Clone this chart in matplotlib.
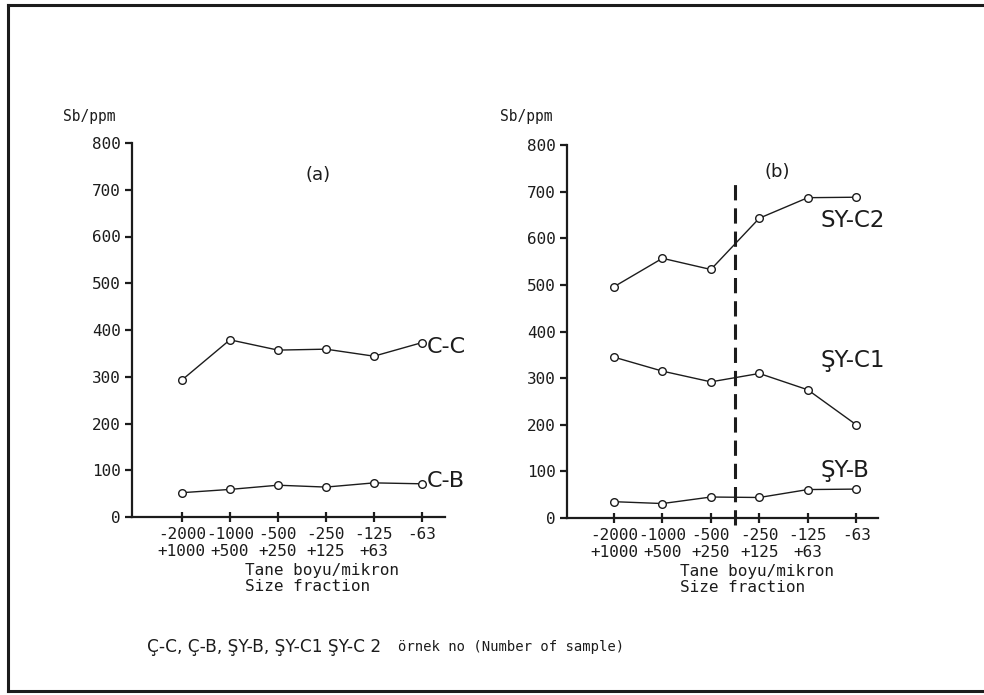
import matplotlib
matplotlib.use("Agg")
import matplotlib.pyplot as plt
from matplotlib.lines import Line2D

# Size fractions (micron)
fractions = ["-2000\n+1000", "-1000\n+500", "-500\n+250", "-250\n+125", "-125\n+63", "-63"]
yticks = [0, 100, 200, 300, 400, 500, 600, 700, 800]

# Sb/ppm values
cc = [293, 379, 357, 359, 344, 373]
cb = [52, 59, 68, 64, 73, 71]
sy_c2 = [496, 557, 533, 643, 687, 688]
sy_c1 = [345, 315, 292, 310, 275, 200]
sy_b = [35, 31, 45, 44, 61, 62]

ink = "#1c1c1c"
mono = "DejaVu Sans Mono"
W, H = 984, 695

fig = plt.figure(figsize=(W / 100, H / 100), dpi=100)
fig.patch.set_facecolor("white")


def box(l, r, t, b):
    return [l / W, 1 - b / H, (r - l) / W, (b - t) / H]


def setup(ax, xlim):
    x = range(len(fractions))
    ax.set_xlim(*xlim)
    ax.set_ylim(0, 800)
    for s in ["top", "right"]:
        ax.spines[s].set_visible(False)
    for s in ["left", "bottom"]:
        ax.spines[s].set_linewidth(1.6)
        ax.spines[s].set_color(ink)
    ax.set_xticks(list(x))
    ax.set_xticklabels(fractions, family=mono, fontsize=11.5, linespacing=1.1)
    ax.set_yticks(yticks)
    ax.set_yticklabels([str(v) for v in yticks], family=mono, fontsize=11.5)
    ax.tick_params(axis="x", direction="inout", length=7, width=1.6, pad=4, colors=ink)
    ax.tick_params(axis="y", direction="out", length=5, width=1.6, pad=3, colors=ink)
    ax.patch.set_alpha(0)
    return list(x)


def series(ax, x, y):
    ax.plot(x, y, color=ink, lw=1.0, marker="o", ms=5.5, mfc="white", mec=ink, mew=1.0,
            clip_on=False, zorder=3)


# panel (a)
ax1 = fig.add_axes(box(132, 445, 143, 517))
x = setup(ax1, (-1.04, 5.48))
series(ax1, x, cc)
series(ax1, x, cb)
ax1.text(5.1, 351, "C-C", fontsize=16, color=ink, va="baseline")
ax1.text(5.1, 64, "C-B", fontsize=16, color=ink, va="baseline")
ax1.text(2.83, 731, "(a)", fontsize=13, color=ink, ha="center", va="center")

# panel (b)
ax2 = fig.add_axes(box(567, 878, 145, 518))
x = setup(ax2, (-0.97, 5.45))
series(ax2, x, sy_c2)
series(ax2, x, sy_c1)
series(ax2, x, sy_b)
ax2.plot([2.5, 2.5], [-15, 725], color=ink, lw=2.2, ls=(0, (5, 2.6)), clip_on=False)
ax2.text(4.26, 625, "SY-C2", fontsize=16.5, color=ink, va="baseline")
ax2.text(4.26, 324, "ŞY-C1", fontsize=16.5, color=ink, va="baseline")
ax2.text(4.26, 88, "ŞY-B", fontsize=16.5, color=ink, va="baseline")
ax2.text(3.37, 742, "(b)", fontsize=13, color=ink, ha="center", va="center")

# axis titles
fig.text(63 / W, 1 - 116 / H, "Sb/ppm", family=mono, fontsize=10.5, color=ink, va="center")
fig.text(500 / W, 1 - 117 / H, "Sb/ppm", family=mono, fontsize=10.5, color=ink, va="center")
fig.text(245 / W, 1 - 563 / H, "Tane boyu/mikron\nSize fraction", family=mono, fontsize=11.5,
         color=ink, va="top", linespacing=1.1)
fig.text(680 / W, 1 - 564 / H, "Tane boyu/mikron\nSize fraction", family=mono, fontsize=11.5,
         color=ink, va="top", linespacing=1.1)

# caption
fig.text(147 / W, 1 - 647 / H, "Ç-C, Ç-B, ŞY-B, ŞY-C1 ŞY-C 2", fontsize=12.2, color=ink, va="center")
fig.text(398 / W, 1 - 647 / H, "örnek no (Number of sample)", family=mono, fontsize=10,
         color=ink, va="center")

# scanned page frame
for xs, ys in [([8, 8], [5, 691]), ([8, 984], [5, 5]), ([8, 984], [691, 691])]:
    fig.add_artist(Line2D([v / W for v in xs], [1 - v / H for v in ys], color=ink, lw=2.2))

fig.savefig("out.png", dpi=100, facecolor="white")
